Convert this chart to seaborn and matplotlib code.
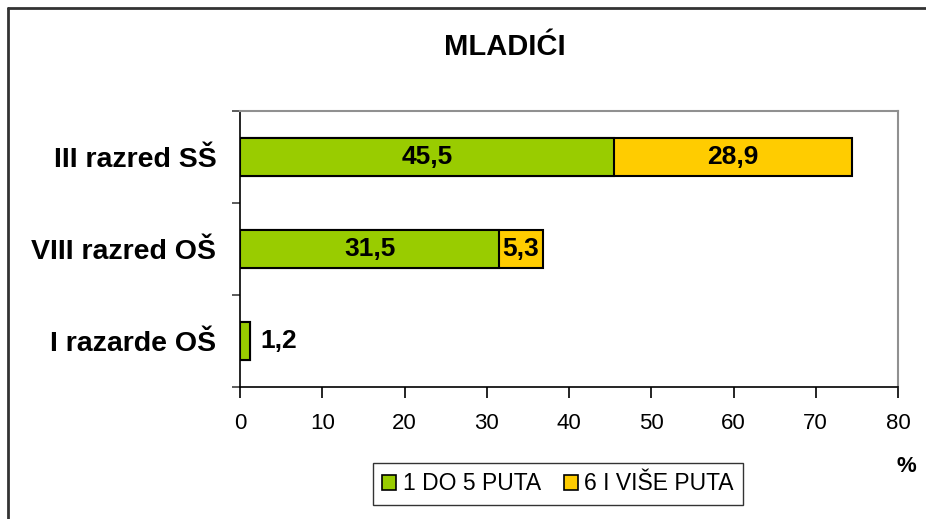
import matplotlib
matplotlib.use("Agg")
import matplotlib.pyplot as plt
import seaborn as sns
import pandas as pd
from matplotlib.lines import Line2D

categories = ["III razred SŠ", "VIII razred OŠ", "I razarde OŠ"]
puta_1_5 = [45.5, 31.5, 1.2]
puta_6_plus = [28.9, 5.3, 0.0]
series_names = ["1 DO 5 PUTA", "6 I VIŠE PUTA"]
x_ticks = [0, 10, 20, 30, 40, 50, 60, 70, 80]

green = "#99CC00"
yellow = "#FFCC00"

sns.set_style("white")
plt.rcParams["font.family"] = ["Liberation Sans", "DejaVu Sans"]
plt.rcParams["text.color"] = "black"
plt.rcParams["xtick.color"] = "black"
plt.rcParams["ytick.color"] = "black"
plt.rcParams["xtick.labelcolor"] = "black"
plt.rcParams["ytick.labelcolor"] = "black"

df = pd.DataFrame({"cat": categories, "s1": puta_1_5, "s2": puta_6_plus})
df["total"] = df["s1"] + df["s2"]

fig = plt.figure(figsize=(9.26, 5.19), dpi=100)
ax = fig.add_axes([240 / 926, 1 - 387 / 519, 658 / 926, 276 / 519])

# stacked: draw totals in yellow, then the first series in green on top
sns.barplot(data=df, y="cat", x="total", order=categories, color=yellow,
            width=0.42, edgecolor="black", linewidth=1.5, saturation=1,
            orient="h", ax=ax)
sns.barplot(data=df, y="cat", x="s1", order=categories, color=green,
            width=0.42, edgecolor="black", linewidth=1.5, saturation=1,
            orient="h", ax=ax)

def fmt(v):
    return f"{v:.1f}".replace(".", ",")

for i, row in df.iterrows():
    if row["s2"] > 0:
        ax.text(row["s1"] / 2, i, fmt(row["s1"]), ha="center", va="center",
                fontsize=19, fontweight="bold", color="black")
        ax.text(row["s1"] + row["s2"] / 2, i, fmt(row["s2"]), ha="center",
                va="center", fontsize=19, fontweight="bold", color="black")
    else:
        ax.text(row["s1"] + 1.3, i, fmt(row["s1"]), ha="left", va="center",
                fontsize=19, fontweight="bold", color="black")

ax.set_xlim(0, 80)
ax.set_ylim(2.5, -0.5)
ax.set_xticks(x_ticks)
ax.set_xticklabels([str(t) for t in x_ticks], fontsize=16)
ax.set_yticks([-0.5, 0.5, 1.5, 2.5], minor=True)
ax.set_yticks([0, 1, 2])
ax.set_yticklabels(categories, fontsize=20.5, fontweight="bold")
ax.tick_params(axis="y", which="major", left=False, length=0, pad=17)
ax.tick_params(axis="y", which="minor", left=True, length=6, width=1.2,
               direction="out", color="#404040")
ax.tick_params(axis="x", which="major", bottom=True, length=8, width=1.2,
               direction="out", color="black", pad=11)
ax.set_xlabel("")
ax.set_ylabel("")
for side in ["top", "right"]:
    ax.spines[side].set_color("#909090")
    ax.spines[side].set_linewidth(1.5)
for side in ["left", "bottom"]:
    ax.spines[side].set_color("black")
    ax.spines[side].set_linewidth(1.2)

fig.text(505 / 926, 1 - 47 / 519, "MLADIĆI", ha="center", va="center",
         fontsize=21, fontweight="bold", color="black")
fig.text(906 / 926, 1 - 467 / 519, "%", ha="center", va="center",
         fontsize=16, fontweight="bold", color="black")

handles = [plt.Rectangle((0, 0), 1, 1, facecolor=green, edgecolor="black", linewidth=1.2),
           plt.Rectangle((0, 0), 1, 1, facecolor=yellow, edgecolor="black", linewidth=1.2)]
leg = fig.legend(handles, series_names, loc="center", bbox_to_anchor=(558 / 926, 1 - 484 / 519),
                 ncol=2, fontsize=16.5, frameon=True, fancybox=False, edgecolor="black",
                 handlelength=0.6, handleheight=0.6, handletextpad=0.3, columnspacing=1.0,
                 borderpad=0.4, borderaxespad=0, labelcolor="black")
leg.get_frame().set_linewidth(1.0)

# outer chart border (top and left visible)
fig.add_artist(Line2D([8 / 926, 1], [1 - 8 / 519, 1 - 8 / 519], color="#333333", linewidth=2))
fig.add_artist(Line2D([8 / 926, 8 / 926], [0, 1 - 8 / 519], color="#333333", linewidth=2))

fig.savefig("out.png", dpi=100)
